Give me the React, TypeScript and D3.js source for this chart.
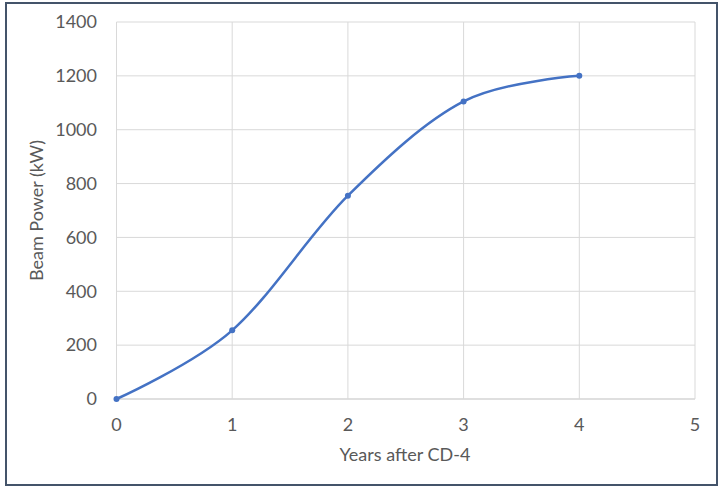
import React from "react";
import * as d3 from "d3";

const years = [0, 1, 2, 3, 4];
const power = [0, 255, 755, 1105, 1200];
const xTicks = [0, 1, 2, 3, 4, 5];
const yTicks = [0, 200, 400, 600, 800, 1000, 1200, 1400];

export default function App() {
  const W = 722, H = 490;
  const x = d3.scaleLinear().domain([0, 5]).range([116.5, 695]);
  const y = d3.scaleLinear().domain([0, 1400]).range([399, 22]);
  const pts: [number, number][] = years.map((d, i) => [x(d), y(power[i])]);
  const line = d3.line().curve(d3.curveCatmullRom.alpha(0))(pts) || "";
  const font = "Lato, 'Open Sans', sans-serif";
  const fs = 18;
  return (
    <svg width={W} height={H} style={{ position: "absolute", left: 0, top: 0 }}>
      <rect x={0} y={0} width={W} height={H} fill="#fff" />
      <rect x={6} y={3} width={711} height={482} fill="#fff" stroke="#44546a" strokeWidth={2} />
      {yTicks.map((t) => (
        <line key={"gy" + t} x1={x(0)} x2={x(5)} y1={y(t)} y2={y(t)} stroke={t === 0 ? "#bfbfbf" : "#d9d9d9"} strokeWidth={1} />
      ))}
      {xTicks.map((t) => (
        <line key={"gx" + t} x1={x(t)} x2={x(t)} y1={y(0)} y2={y(1400)} stroke="#d9d9d9" strokeWidth={1} />
      ))}
      {yTicks.map((t) => (
        <text key={"ty" + t} x={97} y={y(t)} dy="0.35em" textAnchor="end" fontSize={fs} fill="#595959" fontFamily={font}>{t}</text>
      ))}
      {xTicks.map((t) => (
        <text key={"tx" + t} x={x(t)} y={425} dy="0.35em" textAnchor="middle" fontSize={fs} fill="#595959" fontFamily={font}>{t}</text>
      ))}
      <text x={405} y={455} dy="0.35em" textAnchor="middle" fontSize={fs} fill="#595959" fontFamily={font}>Years after CD-4</text>
      <text transform={`translate(37,${y(700)}) rotate(-90)`} dy="0.35em" textAnchor="middle" fontSize={fs} fill="#595959" fontFamily={font}>Beam Power (kW)</text>
      <path d={line} fill="none" stroke="#4472c4" strokeWidth={2.5} strokeLinecap="round" />
      {pts.map((p, i) => (
        <circle key={"p" + i} cx={p[0]} cy={p[1]} r={3} fill="#4472c4" />
      ))}
    </svg>
  );
}
